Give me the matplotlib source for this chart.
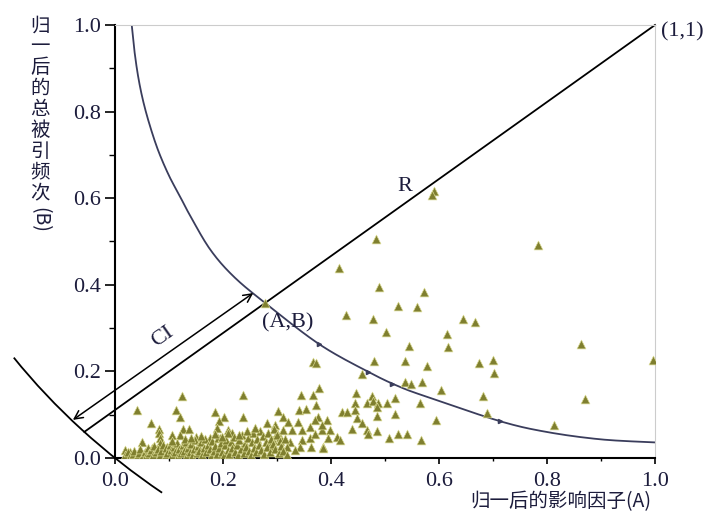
import numpy as np
import matplotlib
matplotlib.use("Agg")
import matplotlib.pyplot as plt
from matplotlib.patches import Arc
from matplotlib.ticker import MultipleLocator

# 散点数据 (A, B)
sparse_pts = [
    (0.415, 0.439), (0.483, 0.506), (0.591, 0.617), (0.587, 0.607), (0.783, 0.492),
    (0.489, 0.395), (0.572, 0.383), (0.524, 0.351), (0.559, 0.349), (0.478, 0.321),
    (0.644, 0.321), (0.667, 0.314), (0.502, 0.291), (0.615, 0.286), (0.544, 0.259),
    (0.617, 0.256), (0.480, 0.224), (0.537, 0.224), (0.578, 0.212), (0.674, 0.219),
    (0.700, 0.226), (0.702, 0.196), (0.457, 0.194), (0.537, 0.176), (0.548, 0.171),
    (0.569, 0.176), (0.604, 0.157), (0.446, 0.150), (0.476, 0.143), (0.519, 0.139),
    (0.681, 0.143), (0.444, 0.127), (0.467, 0.127), (0.478, 0.132), (0.487, 0.127),
    (0.504, 0.127), (0.565, 0.127), (0.485, 0.118), (0.444, 0.111), (0.519, 0.102),
    (0.689, 0.104), (0.448, 0.092), (0.485, 0.097), (0.457, 0.081), (0.594, 0.088),
    (0.439, 0.067), (0.467, 0.065), (0.485, 0.062), (0.469, 0.055), (0.524, 0.055),
    (0.541, 0.055), (0.507, 0.046), (0.567, 0.042),
    (0.863, 0.263), (0.996, 0.226), (0.870, 0.136), (0.813, 0.076),
    (0.428, 0.330), (0.278, 0.358), (0.367, 0.222), (0.372, 0.219), (0.237, 0.145),
    (0.344, 0.145), (0.367, 0.145), (0.378, 0.162), (0.372, 0.122), (0.341, 0.111),
    (0.354, 0.113), (0.302, 0.109), (0.420, 0.106), (0.430, 0.106), (0.237, 0.095),
    (0.311, 0.095), (0.376, 0.095), (0.281, 0.081), (0.296, 0.076), (0.320, 0.083),
    (0.339, 0.083), (0.370, 0.088), (0.393, 0.088), (0.361, 0.072), (0.383, 0.065),
    (0.398, 0.065), (0.411, 0.049), (0.394, 0.046), (0.361, 0.046), (0.346, 0.042),
    (0.324, 0.037), (0.306, 0.049), (0.293, 0.042), (0.343, 0.025), (0.363, 0.025),
    (0.385, 0.025), (0.319, 0.025), (0.333, 0.018), (0.287, 0.028), (0.417, 0.042),
    (0.311, 0.065), (0.328, 0.065), (0.346, 0.065), (0.300, 0.058), (0.370, 0.055),
    (0.383, 0.076), (0.385, 0.023),
    (0.124, 0.143), (0.041, 0.111), (0.113, 0.111), (0.120, 0.095), (0.185, 0.106),
    (0.202, 0.095), (0.193, 0.085), (0.067, 0.081), (0.081, 0.067), (0.081, 0.058),
    (0.083, 0.046), (0.126, 0.067), (0.137, 0.067), (0.189, 0.069), (0.120, 0.053),
    (0.106, 0.053), (0.050, 0.037), (0.209, 0.065), (0.150, 0.049), (0.176, 0.046),
    (0.194, 0.046), (0.217, 0.058), (0.019, 0.018), (0.028, 0.014), (0.069, 0.023),
    (0.083, 0.035), (0.096, 0.025),
]

# 左下角密集区
dense_pts = [
    (0.018, 0.006), (0.024, 0.013), (0.027, 0.004), (0.033, 0.009), (0.036, 0.017),
    (0.041, 0.005), (0.044, 0.012), (0.047, 0.021), (0.052, 0.008), (0.055, 0.015),
    (0.058, 0.004), (0.061, 0.024), (0.063, 0.011), (0.067, 0.018), (0.071, 0.006),
    (0.073, 0.027), (0.076, 0.013), (0.079, 0.020), (0.083, 0.008), (0.086, 0.016),
    (0.088, 0.029), (0.092, 0.005), (0.094, 0.022), (0.097, 0.012), (0.101, 0.031),
    (0.103, 0.018), (0.106, 0.007), (0.109, 0.025), (0.112, 0.014), (0.114, 0.035),
    (0.117, 0.004), (0.119, 0.021), (0.122, 0.011), (0.125, 0.029), (0.127, 0.017),
    (0.131, 0.038), (0.133, 0.008), (0.135, 0.024), (0.138, 0.014), (0.141, 0.032),
    (0.143, 0.005), (0.146, 0.020), (0.148, 0.041), (0.151, 0.011), (0.154, 0.027),
    (0.156, 0.017), (0.159, 0.036), (0.162, 0.007), (0.164, 0.023), (0.167, 0.044),
    (0.169, 0.013), (0.172, 0.031), (0.175, 0.020), (0.177, 0.005), (0.180, 0.039),
    (0.183, 0.016), (0.185, 0.027), (0.188, 0.010), (0.191, 0.046), (0.193, 0.022),
    (0.196, 0.034), (0.198, 0.014), (0.201, 0.006), (0.204, 0.029), (0.206, 0.042),
    (0.209, 0.018), (0.212, 0.010), (0.214, 0.036), (0.217, 0.024), (0.220, 0.049),
    (0.222, 0.014), (0.225, 0.031), (0.227, 0.006), (0.230, 0.041), (0.233, 0.020),
    (0.235, 0.053), (0.238, 0.012), (0.240, 0.034), (0.243, 0.026), (0.246, 0.046),
    (0.248, 0.017), (0.251, 0.008), (0.253, 0.038), (0.256, 0.057), (0.258, 0.024),
    (0.261, 0.013), (0.263, 0.044), (0.266, 0.031), (0.268, 0.062), (0.271, 0.019),
    (0.274, 0.051), (0.276, 0.009), (0.279, 0.037), (0.281, 0.026), (0.284, 0.058),
    (0.287, 0.015), (0.289, 0.045), (0.292, 0.033), (0.295, 0.068), (0.297, 0.021),
    (0.300, 0.052), (0.303, 0.011), (0.305, 0.039), (0.308, 0.027), (0.312, 0.017),
    (0.315, 0.045), (0.318, 0.008), (0.129, 0.045), (0.160, 0.050), (0.185, 0.055),
    (0.210, 0.058), (0.244, 0.063), (0.260, 0.070), (0.229, 0.052), (0.199, 0.048),
    (0.140, 0.046), (0.105, 0.040),
]

# 等值曲线 (从图上读点)
curve_x = [0.031, 0.036, 0.043, 0.052, 0.064, 0.080, 0.100, 0.120, 0.139, 0.176,
           0.219, 0.278, 0.378, 0.469, 0.528, 0.583, 0.713, 0.800, 0.900, 1.000]
curve_y = [1.000, 0.940, 0.880, 0.825, 0.770, 0.710, 0.652, 0.605, 0.560, 0.482,
           0.420, 0.358, 0.263, 0.199, 0.164, 0.139, 0.085, 0.060, 0.043, 0.036]
curve_mark_x = [0.378, 0.469, 0.513, 0.713]
curve_mark_y = [0.263, 0.199, 0.172, 0.085]

point_ab = (0.278, 0.358)
point_11 = (1.0, 1.0)
radius = np.sqrt(2)
arc_theta = (212.9, 229.8)
ci_start = (0.256, 0.381)
ci_end = (-0.078, 0.088)

xticks = [0.0, 0.2, 0.4, 0.6, 0.8, 1.0]
yticks = [0.0, 0.2, 0.4, 0.6, 0.8, 1.0]
xlabel = "归一后的影响因子(A)"
ylabel_chars = "归一后的总被引频次"
ylabel_tail = "(B)"

txt_color = "#1c1c3c"
curve_color = "#3a3d5c"
mk_color = "#7f7f2f"
serif = ["Liberation Serif", "DejaVu Serif"]
cjk = ["Noto Sans CJK SC", "DejaVu Sans"]


def catmull(xs, ys, n=16):
    pts = np.column_stack([xs, ys])
    p = np.vstack([pts[0], pts, pts[-1]])
    t = np.linspace(0, 1, n, endpoint=False)[:, None]
    out = []
    for i in range(1, len(p) - 2):
        p0, p1, p2, p3 = p[i - 1], p[i], p[i + 1], p[i + 2]
        out.append(0.5 * (2 * p1 + (-p0 + p2) * t
                          + (2 * p0 - 5 * p1 + 4 * p2 - p3) * t ** 2
                          + (-p0 + 3 * p1 - 3 * p2 + p3) * t ** 3))
    out.append(pts[-1][None])
    return np.vstack(out)


fig = plt.figure(figsize=(7.08, 5.16), dpi=100)
ax = fig.add_axes([115 / 708, 1 - 458 / 516, 540 / 708, 433 / 516])
ax.set_xlim(0, 1)
ax.set_ylim(0, 1)

# 散点
sx = [p[0] for p in sparse_pts + dense_pts]
sy = [p[1] for p in sparse_pts + dense_pts]
ax.scatter(sx, sy, marker="^", s=40, c=mk_color, edgecolors="#d8d890",
           linewidths=0.5, zorder=3)

# 曲线
cv = catmull(curve_x, curve_y)
ax.plot(cv[:, 0], cv[:, 1], color=curve_color, lw=1.3, zorder=2)
ax.plot(curve_mark_x, curve_mark_y, ls="none", marker=">", ms=3,
        color=curve_color, zorder=2)

# R 线：从 (1,1) 经过 (A,B) 延伸到圆弧
d = np.array(point_ab) - np.array(point_11)
r_end = np.array(point_11) + radius * d / np.linalg.norm(d)
ax.plot([point_11[0], r_end[0]], [point_11[1], r_end[1]], color="black",
        lw=1.3, clip_on=False, zorder=2)

# 圆弧
arc = Arc(point_11, 2 * radius, 2 * radius, theta1=arc_theta[0], theta2=arc_theta[1],
          color="black", lw=1.3, clip_on=False)
ax.add_patch(arc)

# CI 双箭头
ax.annotate("", xy=ci_end, xytext=ci_start, annotation_clip=False,
            arrowprops=dict(arrowstyle="<->,head_length=0.6,head_width=0.3",
                            color="black", lw=1.1, shrinkA=0, shrinkB=0))

# 文字
ax.text(1.012, 0.985, "(1,1)", fontsize=16, family=serif, color=txt_color,
        ha="left", va="center", clip_on=False)
ax.text(0.537, 0.626, "R", fontsize=16, family=serif, color=txt_color,
        ha="center", va="center")
ax.text(0.319, 0.312, "(A,B)", fontsize=16, family=serif, color=txt_color,
        ha="center", va="center")
ax.text(0.089, 0.279, "CI", fontsize=16, family=serif, color=txt_color,
        ha="center", va="center", rotation=35)

# 坐标轴样式
ax.set_xticks(xticks)
ax.set_yticks(yticks)
ax.set_xticklabels([f"{v:.1f}" for v in xticks], family=serif, fontsize=16, color=txt_color)
ax.set_yticklabels([f"{v:.1f}" for v in yticks], family=serif, fontsize=16, color=txt_color)
ax.xaxis.set_minor_locator(MultipleLocator(0.1))
ax.yaxis.set_minor_locator(MultipleLocator(0.1))
ax.tick_params(axis="y", which="major", length=7, width=1.2, pad=3, direction="out")
ax.tick_params(axis="y", which="minor", length=4, width=1.0, direction="out")
ax.tick_params(axis="x", which="major", length=4, width=1.2, pad=6, direction="out")
ax.tick_params(axis="x", which="minor", length=2.5, width=1.0, direction="out")
for side in ["left", "bottom"]:
    ax.spines[side].set_linewidth(1.5)
    ax.spines[side].set_color("black")
for side in ["top", "right"]:
    ax.spines[side].set_linewidth(0.8)
    ax.spines[side].set_color("#cccccc")

# 轴标题
fig.text(561 / 708, 1 - 502 / 516, xlabel, family=cjk, fontsize=14,
         color=txt_color, ha="center", va="center")
y0 = 26
for i, ch in enumerate(ylabel_chars):
    fig.text(40 / 708, 1 - (y0 + i * 20.9) / 516, ch, family=cjk, fontsize=14,
             color=txt_color, ha="center", va="center")
fig.text(40 / 708, 1 - (y0 + len(ylabel_chars) * 20.9 + 6) / 516, ylabel_tail,
         family=cjk, fontsize=14, color=txt_color, ha="center", va="center",
         rotation=270)

fig.savefig("out.png", dpi=100)
